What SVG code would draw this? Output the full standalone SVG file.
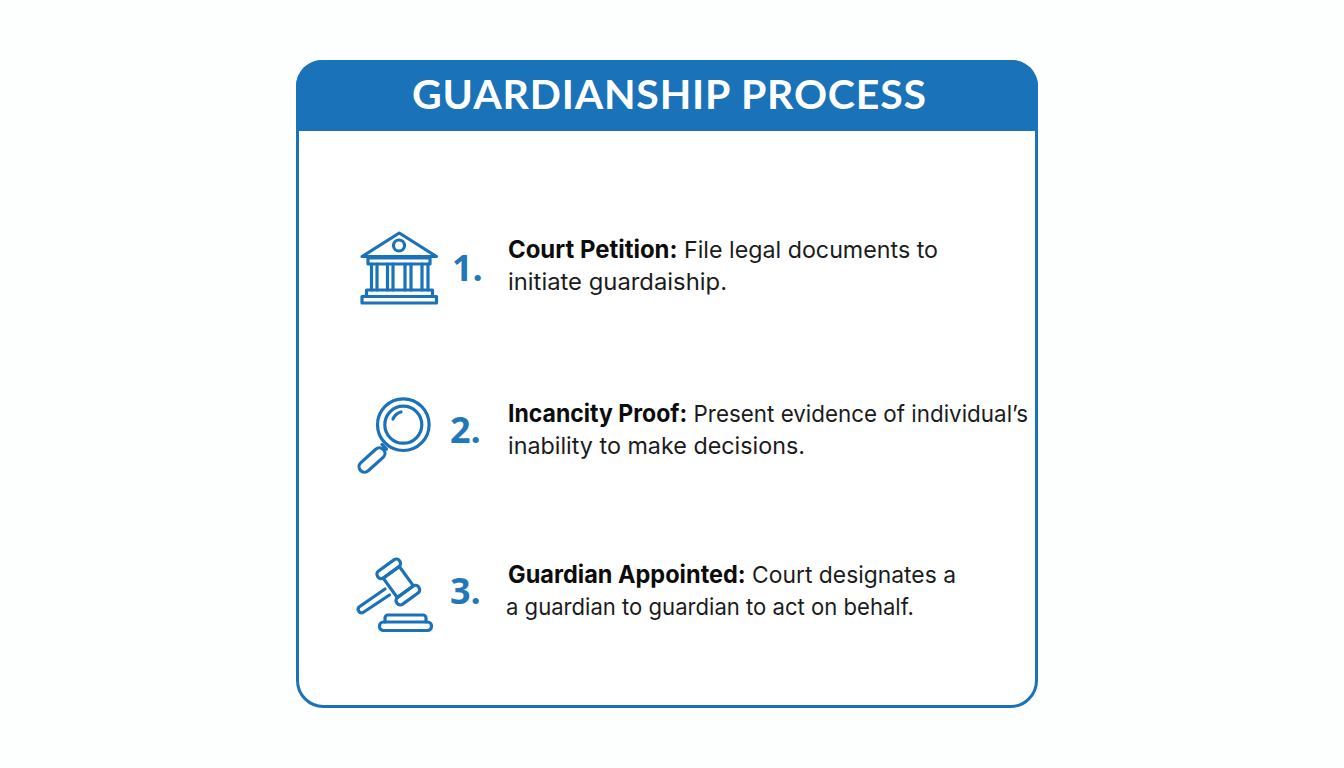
<svg xmlns="http://www.w3.org/2000/svg" width="1344" height="768" viewBox="0 0 1344 768">
<style>
.i{fill:none;stroke:#1c72b8;stroke-width:3.200;stroke-linejoin:round;stroke-linecap:round}
.n{font:700 36px "Open Sans","Liberation Sans",sans-serif;fill:#2277b9}
.t{font:400 23.500px Inter,"Liberation Sans",sans-serif;fill:#1b1b1b}
.t tspan{font-weight:700;font-size:24.200px;fill:#0c0c0c}
</style>
<rect width="1344" height="768" fill="#fdfefe"/>
<g id="card">
<rect x="297.500" y="61.500" width="739" height="645" rx="26" fill="#ffffff" stroke="#1a72b8" stroke-width="3"/>
<path d="M296 131V86a26 26 0 0 1 26-26H1012a26 26 0 0 1 26 26V131Z" fill="#1a72b8"/>
<text x="669" y="109" text-anchor="middle" font-family="Lato,'Open Sans',sans-serif" font-weight="700" font-size="41" fill="#ffffff" textLength="514" lengthAdjust="spacing">GUARDIANSHIP PROCESS</text>
</g>
<g id="step1">
<g class="i">
<path d="M362 256.500 399.300 233 436.500 256.500Z"/>
<circle cx="399" cy="245.500" r="5.500"/>
<rect x="368" y="258" width="62" height="6"/>
<path d="M371.500 264V290M377 264V290M387.500 264V290M393 264V290M405 264V290M411 264V290M422 264V290M428 264V290"/>
<rect x="366.500" y="290" width="66" height="6.500"/>
<rect x="362" y="296.500" width="74.500" height="6.500"/>
</g>
<text class="n" x="452" y="281">1.</text>
<text class="t" x="508" y="258" textLength="430" lengthAdjust="spacingAndGlyphs"><tspan>Court Petition:</tspan> File legal documents to</text>
<text class="t" x="508" y="290" textLength="219" lengthAdjust="spacingAndGlyphs">initiate guardaiship.</text>
</g>
<g id="step2">
<g class="i">
<circle cx="403.300" cy="424.700" r="25.800"/>
<circle cx="403.300" cy="424.700" r="18.500"/>
<path d="M393 419a12 12 0 0 1 8-7"/>
<path d="M382 444.500l4.500 4.500"/>
<rect x="-15.500" y="-5.500" width="31" height="11" rx="5.500" transform="translate(372 460) rotate(-42)"/>
</g>
<text class="n" x="450" y="443">2.</text>
<text class="t" x="508" y="422" textLength="520" lengthAdjust="spacingAndGlyphs"><tspan>Incancity Proof:</tspan> Present evidence of individual’s</text>
<text class="t" x="508" y="454" textLength="297" lengthAdjust="spacingAndGlyphs">inability to make decisions.</text>
</g>
<g id="step3">
<g class="i">
<g transform="translate(398.300 582) rotate(-36)">
<rect x="-10" y="-12" width="20" height="24"/>
<rect x="-13.500" y="-20.500" width="27" height="8.500" rx="4"/>
<rect x="-13.500" y="12" width="27" height="8.500" rx="4"/>
</g>
<path d="M385 589 359 607a3.500 3.500 0 0 0 4 5.500L389.500 595"/>
<path d="M385 622V618a3 3 0 0 1 3-3H423a3 3 0 0 1 3 3V622"/>
<rect x="379.500" y="622" width="52" height="8.500" rx="4"/>
</g>
<text class="n" x="450" y="604">3.</text>
<text class="t" x="508" y="583" textLength="448" lengthAdjust="spacingAndGlyphs"><tspan>Guardian Appointed:</tspan> Court designates a</text>
<text class="t" x="506" y="615" textLength="408" lengthAdjust="spacingAndGlyphs">a guardian to guardian to act on behalf.</text>
</g>
</svg>
